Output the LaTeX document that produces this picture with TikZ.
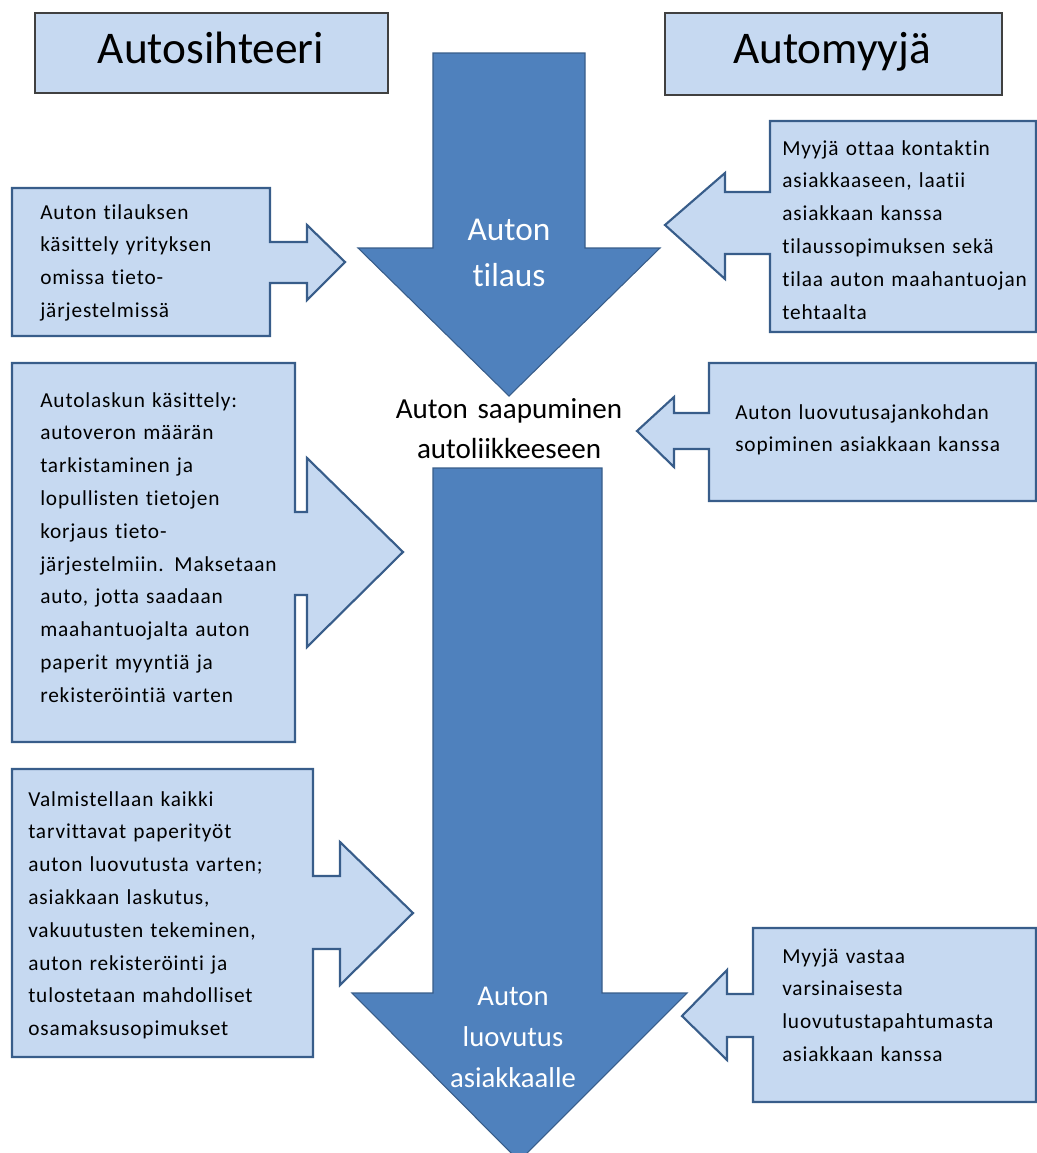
\documentclass[tikz,border=0pt]{standalone}
\usepackage{fontspec}
\setmainfont[Ligatures=NoCommon]{Carlito}
\newfontfamily\boxfont[LetterSpace=4,Ligatures=NoCommon]{Carlito}
\usepackage{tikz}
\usetikzlibrary{positioning}

\definecolor{lightfill}{RGB}{198,217,241}
\definecolor{edgeblue}{RGB}{56,93,138}
\definecolor{bigblue}{RGB}{79,129,189}
\definecolor{headgray}{RGB}{64,64,64}

\tikzset{
  callout/.style={fill=lightfill, draw=edgeblue, line width=1.6pt, line join=miter},
  bigarrow/.style={fill=bigblue, draw=edgeblue, line width=0.8pt},
  headbox/.style={fill=lightfill, draw=headgray, line width=0.9pt},
  headtext/.style={anchor=base, inner sep=0pt, font=\fontsize{34}{40}\selectfont},
  boxtext/.style={anchor=base west, inner sep=0pt, text width=7.5cm, align=left,
    font=\boxfont\fontsize{16}{24.6}\selectfont},
  bigtext/.style={anchor=base, inner sep=0pt, text width=8cm, align=center}
}

\begin{document}
\begin{tikzpicture}[x=0.75pt,y=0.75pt,yscale=-1,xscale=1]
\useasboundingbox (0,0) rectangle (1037,1153);

%Shape: header boxes
\draw [headbox] (35,13) rectangle (388,93);
\draw [headbox] (665,13) rectangle (1002,95);

%Shape: big arrow, order
\draw [bigarrow] (433,53) -- (585,53) -- (585,248) -- (660,248) -- (509,396) -- (358,248) -- (433,248) -- cycle;
%Shape: big arrow, handover
\draw [bigarrow] (433,468) -- (602,468) -- (602,993) -- (687,993) -- (519,1161) -- (352,993) -- (433,993) -- cycle;

%Shape: callouts, left
\draw [callout] (12,188) -- (270,188) -- (270,242) -- (307,242) -- (307,225) -- (345,262) -- (307,300) -- (307,283) -- (270,283) -- (270,336) -- (12,336) -- cycle;
\draw [callout] (12,363) -- (295,363) -- (295,512) -- (307,512) -- (307,458) -- (403,552) -- (307,647) -- (307,595) -- (295,595) -- (295,742) -- (12,742) -- cycle;
\draw [callout] (12,769) -- (313,769) -- (313,876) -- (340,876) -- (340,842) -- (413,913) -- (340,985) -- (340,949) -- (313,949) -- (313,1057) -- (12,1057) -- cycle;

%Shape: callouts, right
\draw [callout] (1036,121) -- (770,121) -- (770,192) -- (725,192) -- (725,173) -- (665,225) -- (725,279) -- (725,254) -- (770,254) -- (770,332) -- (1036,332) -- cycle;
\draw [callout] (1036,363) -- (709,363) -- (709,413) -- (674,413) -- (674,397) -- (637,431) -- (674,467) -- (674,449) -- (709,449) -- (709,501) -- (1036,501) -- cycle;
\draw [callout] (1036,928) -- (753,928) -- (753,994) -- (727,994) -- (727,970) -- (682,1016) -- (727,1060) -- (727,1037) -- (753,1037) -- (753,1102) -- (1036,1102) -- cycle;

% Text Node
\node [headtext] (sihteeri) at (211,63) {Autosihteeri};
% Text Node
\node [headtext] (myyja) at (832,63) {Automyyjä};

% Text Node
\node [bigtext, text=white, font=\fontsize{25}{35}\selectfont] (tilaus) at (509,240) {Auton\\tilaus};
% Text Node
\node [bigtext, font=\fontsize{21.8}{30}\selectfont] (saapuminen) at (509,418) {Auton saapuminen\\autoliikkeeseen};
% Text Node
\node [bigtext, text=white, font=\fontsize{21.5}{31}\selectfont] (luovutus) at (513,1005) {Auton\\luovutus\\asiakkaalle};

% Text Node
\node [boxtext] (tilauskasittely) at (40,219) {Auton tilauksen\\käsittely yrityksen\\omissa tieto-\\järjestelmissä};
% Text Node
\node [boxtext] (autolasku) at (40,407) {Autolaskun käsittely:\\autoveron määrän\\tarkistaminen ja\\lopullisten tietojen\\korjaus tieto-\\järjestelmiin. Maksetaan\\auto, jotta saadaan\\maahantuojalta auton\\paperit myyntiä ja\\rekisteröintiä varten};
% Text Node
\node [boxtext] (paperityot) at (28,806) {Valmistellaan kaikki\\tarvittavat paperityöt\\auton luovutusta varten;\\asiakkaan laskutus,\\vakuutusten tekeminen,\\auton rekisteröinti ja\\tulostetaan mahdolliset\\osamaksusopimukset};

% Text Node
\node [boxtext] (kontakti) at (782,155) {Myyjä ottaa kontaktin\\asiakkaaseen, laatii\\asiakkaan kanssa\\tilaussopimuksen sekä\\tilaa auton maahantuojan\\tehtaalta};
% Text Node
\node [boxtext] (ajankohta) at (735,419) {Auton luovutusajankohdan\\sopiminen asiakkaan kanssa};
% Text Node
\node [boxtext] (vastaa) at (782,963) {Myyjä vastaa\\varsinaisesta\\luovutustapahtumasta\\asiakkaan kanssa};

\end{tikzpicture}
\end{document}
